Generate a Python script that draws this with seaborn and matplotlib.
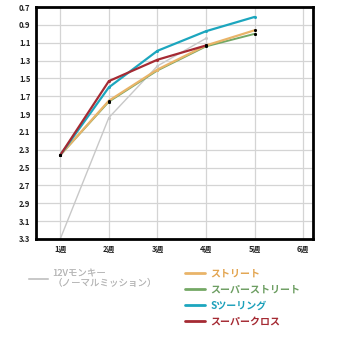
import matplotlib
matplotlib.use("Agg")
import matplotlib.pyplot as plt
import seaborn as sns
import pandas as pd
from matplotlib.lines import Line2D

sns.set_theme(style="white")
plt.rcParams['font.family'] = ['Noto Sans CJK JP', 'DejaVu Sans']

weeks = [1, 2, 3, 4, 5, 6]
week_labels = ["1週", "2週", "3週", "4週", "5週", "6週"]
y_ticks = [0.7, 0.9, 1.1, 1.3, 1.5, 1.7, 1.9, 2.1, 2.3, 2.5, 2.7, 2.9, 3.1, 3.3]

gray_x = [1, 2, 3, 4]
gray_y = [3.30, 1.94, 1.36, 1.05]
orange_x = [1, 2, 3, 4, 5]
orange_y = [2.36, 1.75, 1.40, 1.13, 0.96]
green_x = [1, 2, 3, 4, 5]
green_y = [2.36, 1.76, 1.41, 1.14, 1.00]
teal_x = [1, 2, 3, 4, 5]
teal_y = [2.36, 1.60, 1.19, 0.97, 0.81]
red_x = [1, 2, 3, 4]
red_y = [2.36, 1.53, 1.29, 1.13]

names = ["12Vモンキー\n（ノーマルミッション）", "ストリート", "スーパーストリート", "Sツーリング", "スーパークロス"]
colors = ["#c8c8c8", "#e9b469", "#74a865", "#1ca6be", "#a52a33"]
text_colors = ["#b8b8b8", "#e3a550", "#6d9e62", "#1ca0ba", "#a52a33"]

series = [(gray_x, gray_y), (orange_x, orange_y), (green_x, green_y), (teal_x, teal_y), (red_x, red_y)]
rows = []
for n, (xs, ys) in zip(names, series):
    for x, y in zip(xs, ys):
        rows.append({"week": x, "val": y, "series": n})
df = pd.DataFrame(rows)

fig = plt.figure(figsize=(3.39, 3.39), dpi=100)
ax = fig.add_axes([0.106, 0.295, 0.817, 0.684])

lws = {names[0]: 1.0, names[1]: 1.6, names[2]: 1.4, names[3]: 1.6, names[4]: 1.6}
order = [0, 2, 1, 3, 4]
for i in order:
    n, c = names[i], colors[i]
    sub = df[df.series == n]
    sns.lineplot(data=sub, x="week", y="val", color=c, lw=lws[n], ax=ax, legend=False,
                 marker="o", markersize=2.2, markeredgewidth=0, markerfacecolor=c)

blk = df[df.series.isin([names[1], names[2]]) & (df.week != 3)]
sns.scatterplot(data=blk, x="week", y="val", color="black", s=5, linewidth=0, ax=ax, legend=False, zorder=5)

ax.set_xlim(0.5, 6.2)
ax.set_ylim(3.3, 0.7)
ax.set_xticks(weeks)
ax.set_xticklabels(week_labels)
ax.set_yticks(y_ticks)
ax.set_yticklabels([f"{v:.1f}" for v in y_ticks])
ax.grid(True, color="#d4d4d4", lw=0.9)
ax.set_axisbelow(True)
ax.set_xlabel("")
ax.set_ylabel("")
for s in ax.spines.values():
    s.set_color("black")
    s.set_linewidth(2)
ax.tick_params(axis="both", length=0, labelsize=5.5, pad=4)
for lab in ax.get_xticklabels() + ax.get_yticklabels():
    lab.set_fontweight("bold")
    lab.set_color("#222222")

h0 = [Line2D([], [], color=colors[0], lw=1.2)]
leg1 = fig.legend(h0, [names[0]], loc="upper left", bbox_to_anchor=(0.06, 0.232),
                  frameon=False, fontsize=6.8, handlelength=2.0, handletextpad=0.5,
                  labelcolor=[text_colors[0]])
fig.add_artist(leg1)
hs = [Line2D([], [], color=c, lw=2) for c in colors[1:]]
leg2 = fig.legend(hs, names[1:], loc="upper left", bbox_to_anchor=(0.52, 0.235),
                  frameon=False, handlelength=2.0, handletextpad=0.5, labelspacing=0.6,
                  labelcolor=text_colors[1:], prop={"weight": "bold", "size": 7.2})

fig.savefig("out.png", dpi=100)
